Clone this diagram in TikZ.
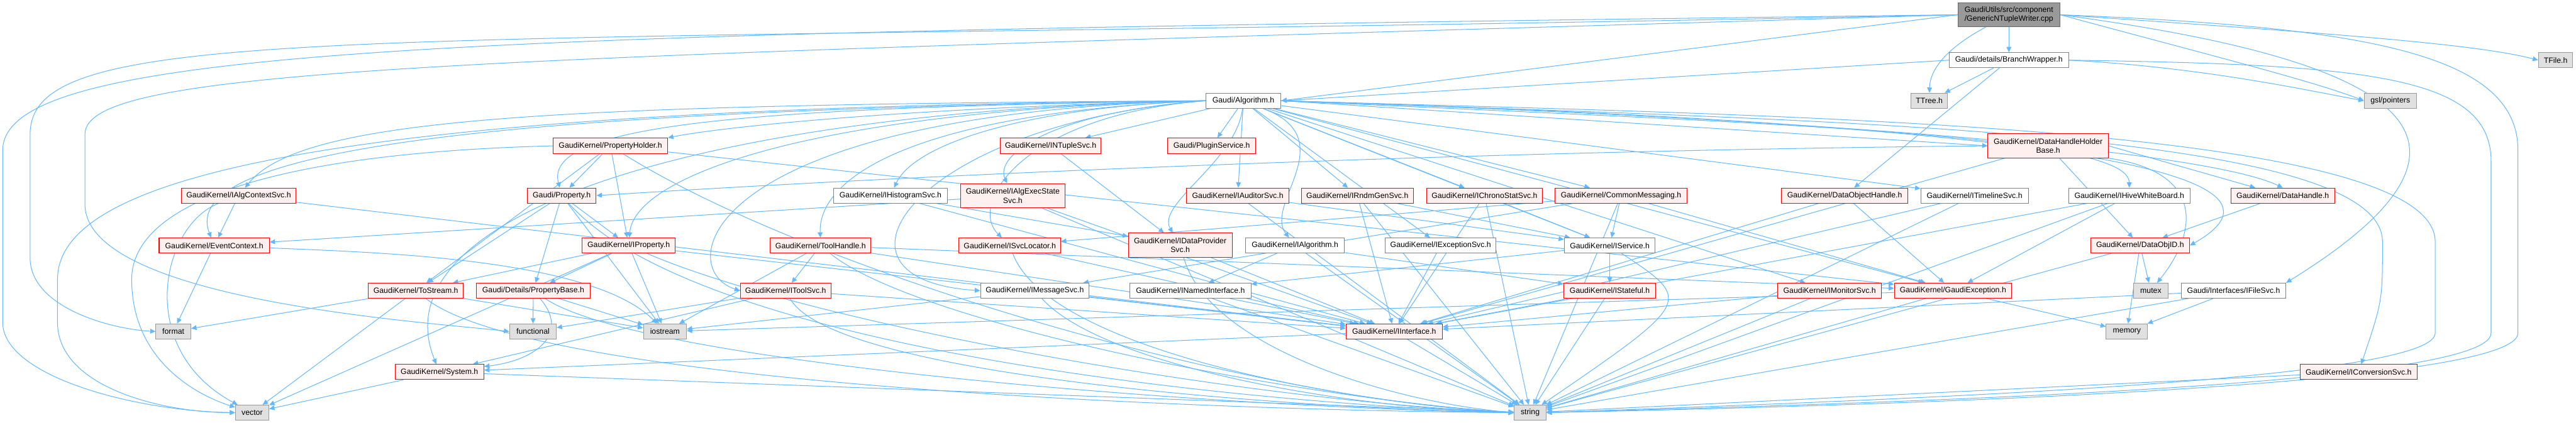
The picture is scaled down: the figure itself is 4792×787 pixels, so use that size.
\documentclass[tikz,border=0pt]{standalone}
\usepackage{fontspec}
\setmainfont{Liberation Sans}
\usetikzlibrary{arrows.meta}
\pgfdeclarelayer{bg}
\pgfsetlayers{bg,main}
\definecolor{edgec}{HTML}{63B8FF}
\definecolor{redfill}{HTML}{FFF0F0}
\definecolor{redline}{HTML}{FF0000}
\definecolor{grayfill}{HTML}{E0E0E0}
\definecolor{grayline}{HTML}{999999}
\definecolor{mainfill}{HTML}{999999}
\definecolor{mainline}{HTML}{666666}
\definecolor{whiteline}{HTML}{808080}
\tikzset{
  box/.style={draw, line width=0.6pt, inner sep=0pt, align=center, font=\fontsize{7.2}{8.5}\selectfont},
  wh/.style 2 args={minimum width=#1*0.5pt, minimum height=#2*0.5pt},
  redn/.style={box, fill=redfill, draw=redline},
  whiten/.style={box, fill=white, draw=whiteline},
  sysn/.style={box, fill=grayfill, draw=grayline},
  mainn/.style={box, fill=mainfill, draw=mainline},
  e/.style={draw=edgec, line width=0.6pt, -{Triangle[length=5pt,width=4.5pt]}}
}
\begin{document}
\begin{tikzpicture}[x=0.5pt,y=-0.5pt]
\useasboundingbox (0,0) rectangle (4792,787);
% row 0-2
\node[mainn, wh={190}{45}] (main) at (3737,27.5) {GaudiUtils/src/component\\/GenericNTupleWriter.cpp};
\node[whiten, wh={222}{28}] (bw) at (3737,112) {Gaudi/details/BranchWrapper.h};
\node[sysn, wh={64}{28}] (tfile) at (4754,112) {TFile.h};
\node[whiten, wh={140}{28}] (alg) at (2313,187.5) {Gaudi/Algorithm.h};
\node[sysn, wh={68}{28}] (ttree) at (3589,187.5) {TTree.h};
\node[sysn, wh={97}{28}] (gsl) at (4446.5,187.5) {gsl/pointers};
% row 3
\node[redn, wh={213}{29}] (propholder) at (1135.5,271.5) {GaudiKernel/PropertyHolder.h};
\node[redn, wh={187}{29}] (ntuple) at (1954.5,271.5) {GaudiKernel/INTupleSvc.h};
\node[redn, wh={164}{29}] (plugin) at (2254,271.5) {Gaudi/PluginService.h};
\node[redn, wh={224}{45}] (dhhb) at (3810,271.5) {GaudiKernel/DataHandleHolder\\Base.h};
% row 4
\node[redn, wh={214}{28}] (algctx) at (444,364) {GaudiKernel/IAlgContextSvc.h};
\node[redn, wh={128}{28}] (property) at (1045,364) {Gaudi/Property.h};
\node[whiten, wh={211}{28}] (histo) at (1656.5,364) {GaudiKernel/IHistogramSvc.h};
\node[redn, wh={194}{45}] (execstate) at (1884,364.5) {GaudiKernel/IAlgExecState\\Svc.h};
\node[redn, wh={191}{28}] (auditor) at (2302.5,364) {GaudiKernel/IAuditorSvc.h};
\node[redn, wh={208}{28}] (rndm) at (2525,364) {GaudiKernel/IRndmGenSvc.h};
\node[redn, wh={215}{28}] (chrono) at (2761.5,364) {GaudiKernel/IChronoStatSvc.h};
\node[redn, wh={245}{28}] (common) at (3015.5,364) {GaudiKernel/CommonMessaging.h};
\node[redn, wh={235}{28}] (doh) at (3431.5,364) {GaudiKernel/DataObjectHandle.h};
\node[whiten, wh={200}{28}] (timeline) at (3673,364) {GaudiKernel/ITimelineSvc.h};
\node[whiten, wh={226}{28}] (hive) at (3961,364) {GaudiKernel/IHiveWhiteBoard.h};
\node[redn, wh={193}{28}] (dh) at (4246.5,364) {GaudiKernel/DataHandle.h};
% row 5
\node[redn, wh={205}{28}] (evctx) at (398.5,457) {GaudiKernel/EventContext.h};
\node[redn, wh={173}{28}] (iprop) at (1169.5,457) {GaudiKernel/IProperty.h};
\node[redn, wh={187}{28}] (toolhandle) at (1526.5,457) {GaudiKernel/ToolHandle.h};
\node[redn, wh={189}{28}] (svcloc) at (1878.5,457) {GaudiKernel/ISvcLocator.h};
\node[redn, wh={193}{45}] (dataprov) at (2195.5,456.5) {GaudiKernel/IDataProvider\\Svc.h};
\node[whiten, wh={184}{28}] (ialg) at (2409,457) {GaudiKernel/IAlgorithm.h};
\node[whiten, wh={206}{28}] (excsvc) at (2680,457) {GaudiKernel/IExceptionSvc.h};
\node[whiten, wh={169}{28}] (service) at (2994.5,457) {GaudiKernel/IService.h};
\node[redn, wh={184}{28}] (objid) at (3981,457) {GaudiKernel/DataObjID.h};
% row 6
\node[redn, wh={177}{28}] (tostream) at (773.5,541) {GaudiKernel/ToStream.h};
\node[redn, wh={212}{28}] (propbase) at (992,541) {Gaudi/Details/PropertyBase.h};
\node[redn, wh={169}{28}] (toolsvc) at (1461.5,541) {GaudiKernel/IToolSvc.h};
\node[whiten, wh={202}{28}] (msgsvc) at (1925,541) {GaudiKernel/IMessageSvc.h};
\node[whiten, wh={225}{28}] (named) at (2214.5,541) {GaudiKernel/INamedInterface.h};
\node[redn, wh={171}{28}] (stateful) at (2994.5,541) {GaudiKernel/IStateful.h};
\node[redn, wh={193}{28}] (monitor) at (3403.5,541) {GaudiKernel/IMonitorSvc.h};
\node[redn, wh={218}{28}] (gexc) at (3633,541) {GaudiKernel/GaudiException.h};
\node[sysn, wh={64}{28}] (mutex) at (4001,541) {mutex};
\node[whiten, wh={194}{28}] (filesvc) at (4155,541) {Gaudi/Interfaces/IFileSvc.h};
% row 7
\node[sysn, wh={65}{28}] (format) at (322.5,617) {format};
\node[sysn, wh={87}{28}] (functional) at (991.5,617) {functional};
\node[sysn, wh={80}{28}] (iostream) at (1237,617) {iostream};
\node[redn, wh={179}{28}] (iinterface) at (2593.5,617) {GaudiKernel/IInterface.h};
\node[sysn, wh={77}{28}] (memory) at (3956.5,617) {memory};
% row 8
\node[redn, wh={165}{28}] (system) at (817.5,692.5) {GaudiKernel/System.h};
\node[redn, wh={217}{28}] (convsvc) at (4387.5,692.5) {GaudiKernel/IConversionSvc.h};
% row 9
\node[sysn, wh={62}{28}] (vector) at (469,768) {vector};
\node[sysn, wh={59}{28}] (string) at (2846.5,768) {string};

\begin{pgfonlayer}{bg}
% main
\draw[e] (main) -- (bw);
\draw[e] (main) .. controls (3620,90) and (3590,130) .. (ttree);
\draw[e] (main.west) -- (alg.east);
\draw[e] (main.east) .. controls (4300,60) and (4600,80) .. (tfile.west);
\draw[e] (main.east) .. controls (4100,100) and (4300,150) .. (gsl.west);
\draw[e] (main.east) .. controls (4450,110) and (4700,250) .. (filesvc.north east);
\draw[e] (main.east) .. controls (4400,50) and (4684,100) .. (4684,280) -- (4684,620) .. controls (4684,720) and (3500,755) .. (string.east);
\draw[e] (main.west) .. controls (900,62) and (5,80) .. (5,280) -- (5,600) .. controls (5,700) and (250,765) .. (vector.west);
\draw[e] (main.west) .. controls (700,90) and (56,30) .. (56,250) -- (56,480) .. controls (56,570) and (200,612) .. (format.west);
\draw[e] (main.west) .. controls (900,110) and (158,120) .. (158,250) -- (158,380) .. controls (158,560) and (800,600) .. (functional.west);
% branch wrapper
\draw[e] (bw) -- (ttree);
\draw[e] (bw.east) .. controls (4100,125) and (4300,170) .. (gsl.west);
\draw[e] (bw.west) -- (alg.east);
\draw[e] (bw) -- (doh);
\draw[e] (bw.east) .. controls (4400,120) and (4634,140) .. (4634,300) -- (4634,620) .. controls (4634,720) and (3500,750) .. (string.east);
% algorithm
\draw[e] (alg) -- (ntuple);
\draw[e] (alg) -- (plugin);
\draw[e] (alg) -- (auditor);
\draw[e] (alg) -- (rndm);
\draw[e] (alg) -- (chrono);
\draw[e] (alg) -- (common);
\draw[e] (alg) -- (timeline);
\draw[e] (alg.east) -- (dhhb.west);
\draw[e] (alg.west) .. controls (1700,200) and (1350,235) .. (propholder.north east);
\draw[e] (alg.west) .. controls (1400,200) and (1010,230) .. (property);
\draw[e] (alg.west) .. controls (1000,195) and (560,220) .. (algctx);
\draw[e] (alg.west) .. controls (1900,200) and (1700,270) .. (histo);
\draw[e] (alg.west) .. controls (1950,210) and (1850,290) .. (execstate);
\draw[e] (alg.west) .. controls (900,205) and (330,280) .. (evctx);
\draw[e] (alg.west) .. controls (1500,205) and (1180,330) .. (iprop);
\draw[e] (alg.west) .. controls (1700,210) and (1522,330) .. (toolhandle);
\draw[e] (alg.west) .. controls (1900,215) and (1800,380) .. (svcloc);
\draw[e] (alg) .. controls (2300,300) and (2150,380) .. (dataprov);
\draw[e] (alg) .. controls (2500,260) and (2350,380) .. (ialg);
\draw[e] (alg) -- (excsvc);
\draw[e] (alg) -- (service);
\draw[e] (alg) -- (monitor);
\draw[e] (alg) -- (gexc);
\draw[e] (alg.west) .. controls (1300,210) and (1250,500) .. (toolsvc.west);
\draw[e] (alg.west) .. controls (1700,230) and (1500,520) .. (msgsvc.west);
\draw[e] (alg.west) .. controls (1300,205) and (700,400) .. (system);
\draw[e] (alg.east) .. controls (3300,230) and (3960,250) .. (hive.north);
\draw[e] (alg.east) .. controls (3400,222) and (4100,280) .. (dh.north);
\draw[e] (alg.east) .. controls (3600,225) and (4350,300) .. (objid.east);
\draw[e] (alg.east) .. controls (3400,225) and (4432,240) .. (4432,450) .. controls (4432,560) .. (convsvc);
\draw[e] (alg.east) .. controls (3300,215) and (4530,230) .. (4530,450) -- (4530,620) .. controls (4530,710) and (3500,745) .. (string.east);
\draw[e] (alg.west) .. controls (600,200) and (107,330) .. (107,520) -- (107,600) .. controls (107,720) and (300,768) .. (vector.west);
% property holder
\draw[e] (propholder) -- (property);
\draw[e] (propholder) -- (iprop);
\draw[e] (propholder) -- (tostream);
\draw[e] (propholder) -- (gexc);
\draw[e] (propholder) .. controls (1500,500) and (2300,740) .. (string.west);
\draw[e] (propholder.west) .. controls (500,285) and (245,380) .. (245,520) .. controls (245,680) and (380,740) .. (vector);
% property
\draw[e] (property) -- (propbase);
\draw[e] (property) -- (tostream);
\draw[e] (property) -- (iostream);
\draw[e] (property) .. controls (1300,650) and (2300,750) .. (string.west);
\draw[e] (property) -- (iprop);
% iproperty
\draw[e] (iprop) -- (propbase);
\draw[e] (iprop) -- (iostream);
\draw[e] (iprop) -- (iinterface);
\draw[e] (iprop) .. controls (1500,600) and (2300,745) .. (string.west);
\draw[e] (iprop) -- (vector);
\draw[e] (iprop) -- (tostream);
% property base
\draw[e] (propbase) -- (functional);
\draw[e] (propbase) -- (iostream);
\draw[e] (propbase) .. controls (1060,620) and (1000,670) .. (system);
\draw[e] (propbase) .. controls (1200,680) and (2300,760) .. (string.west);
% tostream
\draw[e] (tostream) -- (format);
\draw[e] (tostream) -- (vector);
\draw[e] (tostream) -- (iostream);
\draw[e] (tostream) .. controls (1000,720) and (2300,765) .. (string.west);
% tool handle / tool svc
\draw[e] (toolhandle) -- (toolsvc);
\draw[e] (toolhandle) -- (iinterface);
\draw[e] (toolhandle) -- (gexc);
\draw[e] (toolhandle) -- (iostream);
\draw[e] (toolhandle) .. controls (1700,600) and (2400,740) .. (string.west);
\draw[e] (toolsvc) -- (functional);
\draw[e] (toolsvc) -- (system);
\draw[e] (toolsvc) -- (iinterface);
\draw[e] (toolsvc) .. controls (1550,700) and (2400,760) .. (string.west);
% services
\draw[e] (svcloc) -- (iinterface);
\draw[e] (svcloc) .. controls (1950,650) and (2500,750) .. (string.west);
\draw[e] (dataprov) -- (iinterface);
\draw[e] (dataprov) .. controls (2250,650) and (2600,750) .. (string.west);
\draw[e] (ialg) -- (named);
\draw[e] (ialg) -- (stateful);
\draw[e] (ialg) -- (string);
\draw[e] (excsvc) -- (iinterface);
\draw[e] (service) -- (stateful);
\draw[e] (service) -- (named);
\draw[e] (service) .. controls (3150,560) .. (string);
\draw[e] (msgsvc) -- (iinterface);
\draw[e] (msgsvc) .. controls (2050,680) and (2500,760) .. (string.west);
\draw[e] (msgsvc) -- (iostream);
\draw[e] (named) -- (iinterface);
\draw[e] (named) -- (string);
\draw[e] (stateful) -- (iinterface);
\draw[e] (stateful) -- (string);
\draw[e] (iinterface) -- (system);
\draw[e] (iinterface) -- (string);
\draw[e] (monitor) -- (iinterface);
\draw[e] (monitor) -- (string);
\draw[e] (gexc) -- (memory);
\draw[e] (gexc) -- (string);
\draw[e] (gexc) -- (iostream);
\draw[e] (objid) -- (memory);
\draw[e] (objid) -- (mutex);
\draw[e] (objid) -- (string);
\draw[e] (dh) -- (objid);
\draw[e] (doh) -- (gexc);
\draw[e] (doh) -- (iinterface);
\draw[e] (dhhb.west) .. controls (2800,280) and (1800,320) .. (property.east);
\draw[e] (dhhb.east) -- (dh);
\draw[e] (dhhb) -- (objid);
\draw[e] (dhhb) -- (iinterface);
\draw[e] (dhhb.south east) .. controls (4100,320) and (4090,430) .. (mutex);
\draw[e] (hive) -- (iinterface);
\draw[e] (hive) -- (gexc);
\draw[e] (hive) -- (string);
\draw[e] (timeline) -- (iinterface);
\draw[e] (timeline) -- (string);
\draw[e] (common) -- (service);
\draw[e] (common) -- (msgsvc);
\draw[e] (common) -- (svcloc);
\draw[e] (common) -- (gexc);
\draw[e] (common) -- (string);
\draw[e] (chrono) -- (service);
\draw[e] (chrono) -- (iinterface);
\draw[e] (chrono) -- (string);
\draw[e] (rndm) -- (service);
\draw[e] (rndm) -- (iinterface);
\draw[e] (rndm) -- (string);
\draw[e] (auditor) -- (service);
\draw[e] (auditor) -- (string);
\draw[e] (execstate) -- (evctx);
\draw[e] (execstate) -- (iinterface);
\draw[e] (execstate) -- (string);
\draw[e] (ntuple) -- (dataprov);
\draw[e] (histo) -- (dataprov);
\draw[e] (histo) -- (iinterface);
\draw[e] (algctx) -- (evctx);
\draw[e] (algctx) .. controls (300,420) and (250,650) .. (vector);
\draw[e] (algctx) -- (iinterface);
\draw[e] (evctx) -- (format);
\draw[e] (evctx) .. controls (700,470) and (1100,480) .. (iostream);
\draw[e] (filesvc) -- (iinterface);
\draw[e] (filesvc) -- (string);
\draw[e] (filesvc) -- (memory);
\draw[e] (convsvc) -- (string);
\draw[e] (system) -- (vector);
\draw[e] (system) -- (string);
\end{pgfonlayer}
\end{tikzpicture}
\end{document}
